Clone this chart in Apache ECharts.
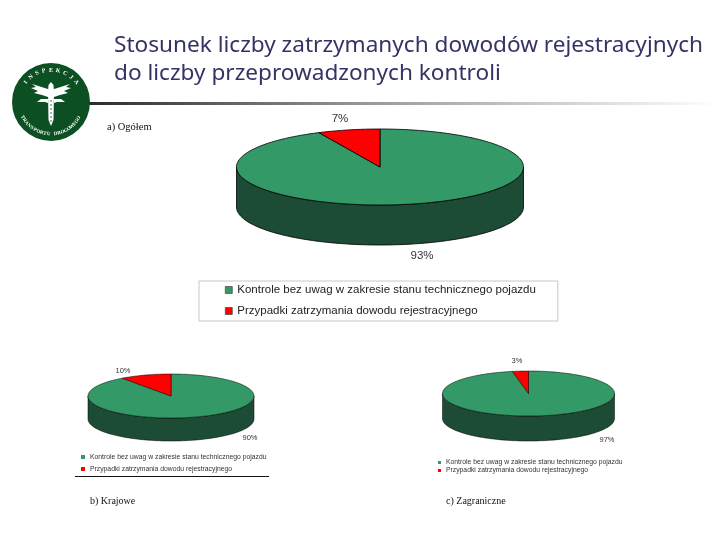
<!DOCTYPE html>
<html><head><meta charset="utf-8">
<style>html,body{margin:0;padding:0;background:#fff}#c{width:720px;height:540px}</style>
<script src="https://cdn.jsdelivr.net/npm/echarts@6/dist/echarts.min.js"></script>
</head><body><div id="c"></div>
<script>
const categories = ['Kontrole bez uwag w zakresie stanu technicznego pojazdu', 'Przypadki zatrzymania dowodu rejestracyjnego'];
const valuesOverall = [93, 7];
const valuesDomestic = [90, 10];
const valuesForeign = [97, 3];
const titleLines = ['Stosunek liczby zatrzymanych dowodów rejestracyjnych', 'do liczby przeprowadzonych kontroli'];
const captions = ['a) Ogółem', 'b) Krajowe', 'c) Zagraniczne'];
const sliceColors = ['#339966', '#ff0000'];
const sideColor = '#1c4c35';

function rim(g, f0, f1, dy) {
  const pts = [], n = Math.max(4, Math.ceil(Math.abs(f1 - f0) * 180));
  for (let i = 0; i <= n; i++) {
    const a = 2 * Math.PI * (f0 + (f1 - f0) * i / n);
    pts.push([g.cx + g.rx * Math.sin(a), g.cy - g.ry * Math.cos(a) + dy]);
  }
  return pts;
}
function sliceSeries(values, idx, g) {
  const total = values.reduce((a, b) => a + b, 0);
  const before = values.slice(0, idx).reduce((a, b) => a + b, 0);
  return {
    type: 'custom', coordinateSystem: 'none', name: categories[idx],
    itemStyle: { color: sliceColors[idx] }, silent: true, animation: false,
    data: [values[idx]],
    renderItem(params, api) {
      const v = api.value(0), f0 = before / total, f1 = (before + v) / total;
      const line = { stroke: '#000', lineWidth: g.lw, lineJoin: 'round' };
      const children = [];
      const lo = Math.max(f0, 0.25), hi = Math.min(f1, 0.75);
      if (hi > lo) {
        children.push({ type: 'polygon', shape: { points: rim(g, lo, hi, 0).concat(rim(g, hi, lo, g.depth)) },
          style: Object.assign({ fill: sideColor }, line) });
      }
      children.push({ type: 'polygon', shape: { points: [[g.cx, g.cy]].concat(rim(g, f0, f1, 0)) },
        style: Object.assign({ fill: sliceColors[idx] }, line) });
      children.push({ type: 'text', style: { text: v + '%', x: g.labels[idx][0], y: g.labels[idx][1],
        align: 'center', verticalAlign: 'middle', fill: '#333', font: g.font } });
      return { type: 'group', children };
    }
  };
}
const geomA = { cx: 380, cy: 167, rx: 143.5, ry: 38, depth: 40, lw: 0.8, font: '11.5px "Liberation Sans"', labels: [[422, 256], [340, 119]] };
const geomB = { cx: 171, cy: 396, rx: 83, ry: 22, depth: 23, lw: 0.5, font: '7.5px "Liberation Sans"', labels: [[250, 438], [123, 371]] };
const geomC = { cx: 528.5, cy: 393.5, rx: 86, ry: 22.5, depth: 25, lw: 0.5, font: '7.5px "Liberation Sans"', labels: [[607, 440], [517, 361]] };

const series = [];
[[valuesOverall, geomA], [valuesDomestic, geomB], [valuesForeign, geomC]].forEach(([vals, g]) => {
  vals.forEach((_, i) => series.push(sliceSeries(vals, i, g)));
});

// logo
const logo = { cx: 51, cy: 102, r: 39, green: '#0b4f22' };
function arcText(text, radius, startDeg, stepDeg, fontPx) {
  return Array.from(text).map((ch, i) => {
    const d = startDeg + i * stepDeg, a = d * Math.PI / 180;
    return { type: 'text', z: 5, x: logo.cx + radius * Math.sin(a), y: logo.cy - radius * Math.cos(a),
      rotation: stepDeg > 0 ? -a : -(a - Math.PI),
      style: { text: ch, fill: '#fff', font: 'bold ' + fontPx + 'px "Liberation Serif"', align: 'center', verticalAlign: 'middle' } };
  });
}
const wing = s => ({ type: 'group', z: 5, children: [
  [[0, -7], [19, -13], [15, -10], [20, -9], [13, -6], [17, -4], [9, -2], [3, 0], [0, 0]],
  [[3, 2], [10, 2], [14, 5], [6, 5], [3, 6]]
].map(p => ({ type: 'polygon', z: 5, shape: { points: p.map(q => [logo.cx + s * q[0], logo.cy + q[1] - 5]) }, style: { fill: '#fff' } })) });

const graphic = [
  { type: 'text', x: 114, y: 34, style: { text: titleLines[0], font: '22.6px "Noto Sans"', fill: '#333366' } },
  { type: 'text', x: 114, y: 62, style: { text: titleLines[1], font: '22.6px "Noto Sans"', fill: '#333366' } },
  { type: 'rect', shape: { x: 88, y: 102, width: 632, height: 3 },
    style: { fill: new echarts.graphic.LinearGradient(0, 0, 1, 0, [{ offset: 0, color: '#2b2b2b' }, { offset: 0.45, color: '#9a9a9a' }, { offset: 1, color: '#ffffff' }]) } },
  { type: 'circle', z: 4, shape: { cx: logo.cx, cy: logo.cy, r: logo.r }, style: { fill: logo.green } },
  wing(1), wing(-1),
  { type: 'polygon', z: 5, shape: { points: [[48.5, 85], [51, 82], [53.5, 85], [54, 92], [53.5, 120], [51, 126], [48.5, 120], [48, 92]] }, style: { fill: '#fff' } },
  { type: 'line', z: 6, shape: { x1: 51, y1: 100, x2: 51, y2: 122 }, style: { stroke: logo.green, lineWidth: 0.8, lineDash: [2, 2] } },
  ...arcText('INSPEKCJA', 32, -52, 13, 6),
  ...arcText('TRANSPORTU DROGOWEGO', 32, 242, -6.4, 5),
  { type: 'text', x: 107, y: 122, style: { text: captions[0], font: '10.5px "Liberation Serif"', fill: '#111' } },
  { type: 'text', x: 90, y: 496, style: { text: captions[1], font: '10px "Liberation Serif"', fill: '#111' } },
  { type: 'text', x: 446, y: 496, style: { text: captions[2], font: '10px "Liberation Serif"', fill: '#111' } },
  { type: 'line', shape: { x1: 75, y1: 476.5, x2: 269, y2: 476.5 }, style: { stroke: '#111', lineWidth: 1 } }
];

const chart = echarts.init(document.getElementById('c'), null, { renderer: 'canvas' });
chart.setOption({
  animation: false,
  backgroundColor: '#fff',
  graphic,
  legend: [
    { data: categories, orient: 'vertical', left: 199, top: 281, selectedMode: false, icon: 'rect',
      itemWidth: 7, itemHeight: 7, itemGap: 9, padding: [3, 22, 4, 26], borderColor: '#c8c8c8', borderWidth: 1,
      textStyle: { fontFamily: 'Liberation Sans', fontSize: 11.5, color: '#222' }, itemStyle: { borderColor: '#333', borderWidth: 0.6 } },
    { data: categories, orient: 'vertical', left: 81, top: 453.5, selectedMode: false, icon: 'rect',
      itemWidth: 4, itemHeight: 4, itemGap: 5, padding: 0,
      textStyle: { fontFamily: 'Liberation Sans', fontSize: 6.8, color: '#333' } },
    { data: categories, orient: 'vertical', left: 438, top: 459, selectedMode: false, icon: 'rect',
      itemWidth: 3, itemHeight: 3, itemGap: 1, padding: 0,
      textStyle: { fontFamily: 'Liberation Sans', fontSize: 6.8, color: '#333' } }
  ],
  series
});
</script></body></html>
